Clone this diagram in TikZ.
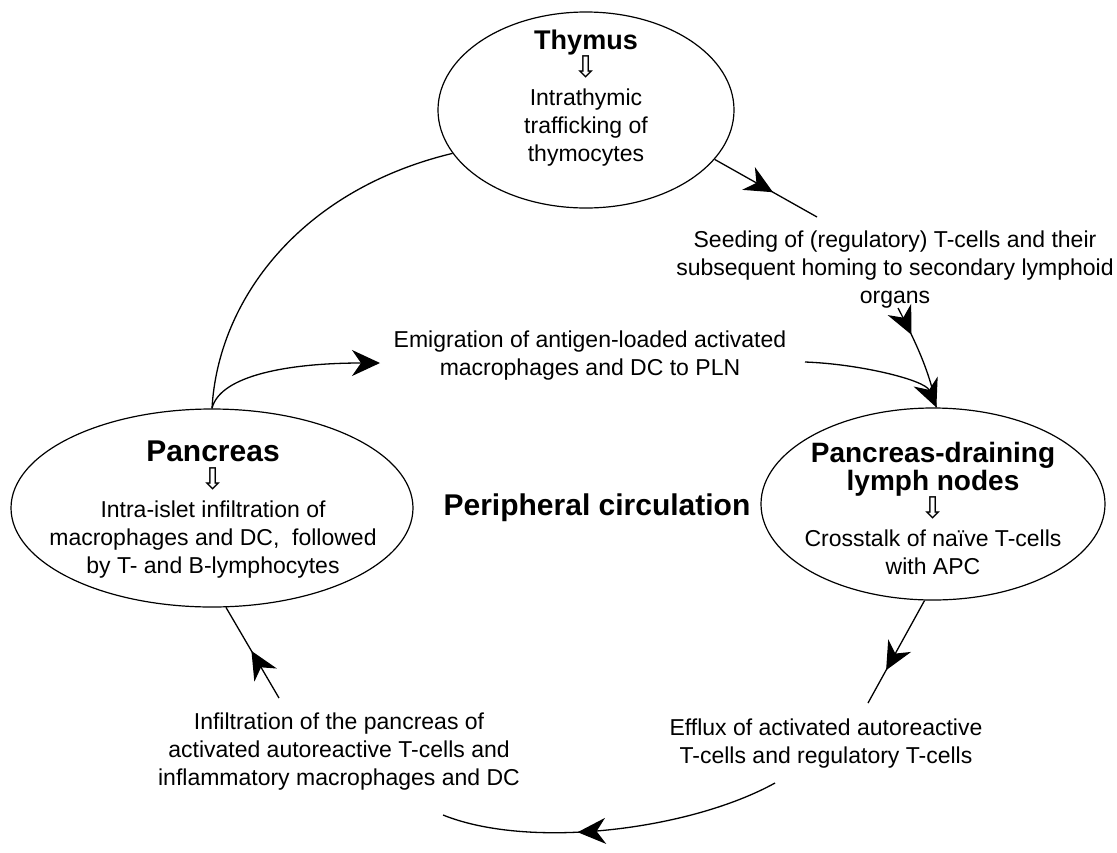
\documentclass[tikz,border=0pt]{standalone}
\usepackage{fontspec}
\setmainfont{Liberation Sans}
\newfontfamily\arrowfont{DejaVu Sans}
\usetikzlibrary{shapes.geometric,arrows.meta,decorations.markings}
\newcommand{\hollowdown}{{\arrowfont\fontsize{30}{28}\selectfont ⇩}}
\newcommand{\organname}[2]{{\bfseries\fontsize{#1}{28}\selectfont #2}}
\tikzset{
  organ/.style={ellipse,draw,line width=1.2pt,inner sep=0pt},
  txt/.style={align=center,font=\fontsize{23}{28}\selectfont},
  flow/.style={line width=1.3pt},
  tip/.style={-{Stealth[length=28pt,width=26pt,inset=9pt]}},
  midarrow/.style={postaction={decorate},decoration={markings,
    mark=at position #1 with {\arrow{Stealth[length=28pt,width=26pt,inset=9pt]}}}}
}
\begin{document}
\begin{tikzpicture}[x=1pt,y=-1pt]
        \useasboundingbox (0,0) rectangle (1117,852);
        \node [organ,minimum width=296pt,minimum height=196pt] (thymus) at (586,110) {};
        \node [organ,minimum width=402pt,minimum height=198pt] (pancreas) at (212,508) {};
        \node [organ,minimum width=344pt,minimum height=192pt] (pln) at (933,504) {};
        \node [txt] (thymustxt) at (586,98) {\organname{27}{Thymus}\\ \hollowdown\\ Intrathymic\\ trafficking of\\ thymocytes};
        \node [txt] (pancreastxt) at (213,510) {\organname{30}{Pancreas}\\ \hollowdown\\ Intra-islet infiltration of\\ macrophages and DC,\ \ followed\\ by T-\ and B-lymphocytes};
        \node [txt] (plntxt) at (933,508) {\organname{28}{Pancreas-draining}\\ \organname{28}{lymph nodes}\\ \hollowdown\\ Crosstalk of naïve T-cells\\ with APC};
        \node [txt] (periph) at (597,508) {\organname{30}{Peripheral circulation}};
        \node [txt] (seed) at (895,270) {Seeding of (regulatory) T-cells and their\\ subsequent homing to secondary lymphoid\\ organs};
        \node [txt] (emig) at (590,356) {Emigration of antigen-loaded activated\\ macrophages and DC to PLN};
        \node [txt] (efflux) at (826,744) {Efflux of activated autoreactive\\ T-cells and regulatory T-cells};
        \node [txt] (infil) at (339,752) {Infiltration of the pancreas of\\ activated autoreactive T-cells and\\ inflammatory macrophages and DC};
        \coordinate (thyend) at (817,217);
        \coordinate (seedend) at (898,308);
        \coordinate (emigl) at (380,363);
        \coordinate (emigr) at (805,362);
        \coordinate (effluxtop) at (868,703);
        \coordinate (infbot) at (279,698);
        \coordinate (arcstart) at (775,783);
        \coordinate (arcend) at (443,815);
        \draw [flow] (pancreas.north) .. controls (218,300) and (300,190) .. (thymus.198);
        \draw [flow,midarrow=0.57] (thymus.-21) -- (thyend);
        \draw [flow,midarrow=0.28] (seedend) .. controls (912,335) and (930,370) .. (pln.88);
        \draw [flow,tip] (pancreas.north) .. controls (220,375) and (290,363) .. (emigl);
        \draw [flow,tip] (emigr) .. controls (860,364) and (925,380) .. (pln.88);
        \draw [flow,midarrow=0.68] (pln.-95) -- (effluxtop);
        \draw [flow,midarrow=0.6] (arcstart) .. controls (690,830) and (530,850) .. (arcend);
        \draw [flow,midarrow=0.52] (infbot) -- (pancreas.-82);
\end{tikzpicture}
\end{document}
